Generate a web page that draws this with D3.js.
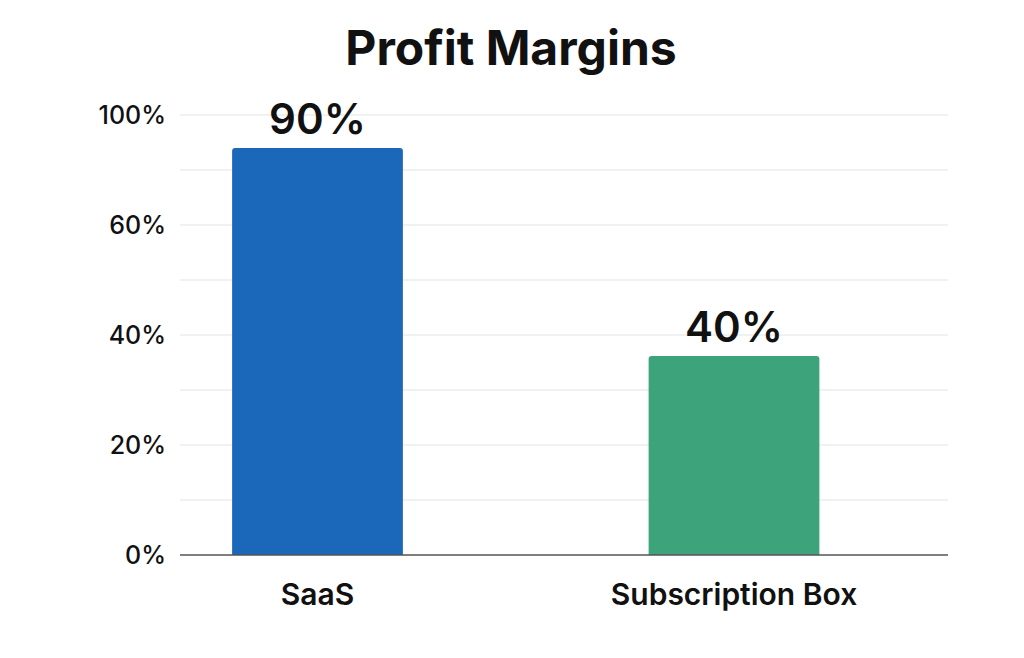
<!DOCTYPE html>
<html><head><meta charset="utf-8">
<script src="https://cdn.jsdelivr.net/npm/d3@7"></script>
<style>body{margin:0;background:#fff}</style></head>
<body><svg id="c" width="1024" height="658"></svg>
<script>
const categories = ["SaaS", "Subscription Box"];
const barValues = [74, 36.2];            // bar heights in axis units
const valueLabels = ["90%", "40%"];
const tickValues = [0, 20, 40, 60, 80];
const tickLabels = ["0%", "20%", "40%", "60%", "100%"];
const gridValues = [10, 20, 30, 40, 50, 60, 70, 80];
const colors = ["#1b67b9", "#3da37a"];

const svg = d3.select("#c");
const font = "Inter, 'Noto Sans', sans-serif";
const y = d3.scaleLinear().domain([0, 80]).range([555, 115]);
const x = d3.scaleBand().domain(categories).range([109.25, 942.25]).paddingInner(0.59).paddingOuter(0.295);

svg.selectAll(".g").data(gridValues).enter().append("line")
  .attr("x1", 180).attr("x2", 948).attr("y1", d => y(d)).attr("y2", d => y(d))
  .attr("stroke", "#e3e3e3").attr("stroke-width", 1);

svg.selectAll(".b").data(categories).enter().append("path")
  .attr("fill", (d, i) => colors[i])
  .attr("d", (d, i) => {
    const x0 = x(d), w = x.bandwidth(), t = y(barValues[i]), b = y(0), r = 3;
    return `M${x0},${b}V${t + r}Q${x0},${t} ${x0 + r},${t}H${x0 + w - r}Q${x0 + w},${t} ${x0 + w},${t + r}V${b}Z`;
  });

svg.append("line").attr("x1", 180).attr("x2", 948).attr("y1", y(0)).attr("y2", y(0))
  .attr("stroke", "#555").attr("stroke-width", 1.5);

svg.selectAll(".t").data(tickValues).enter().append("text")
  .attr("x", 166).attr("y", d => y(d)).attr("dy", "0.35em").attr("text-anchor", "end")
  .style("font-family", font).style("font-size", "25px").style("font-weight", 500).attr("fill", "#111")
  .text((d, i) => tickLabels[i]);

svg.selectAll(".c").data(categories).enter().append("text")
  .attr("x", d => x(d) + x.bandwidth() / 2).attr("y", 605).attr("text-anchor", "middle")
  .style("font-family", font).style("font-size", "30px").style("font-weight", 600).attr("fill", "#111")
  .text(d => d);

svg.selectAll(".v").data(categories).enter().append("text")
  .attr("x", d => x(d) + x.bandwidth() / 2).attr("y", (d, i) => y(barValues[i]) - 14).attr("text-anchor", "middle")
  .style("font-family", font).style("font-size", "42px").style("font-weight", 600).attr("fill", "#111")
  .text((d, i) => valueLabels[i]);

svg.append("text").attr("x", 511).attr("y", 65).attr("text-anchor", "middle")
  .style("font-family", font).style("font-size", "48px").style("font-weight", 700).attr("fill", "#111")
  .text("Profit Margins");
</script></body></html>
